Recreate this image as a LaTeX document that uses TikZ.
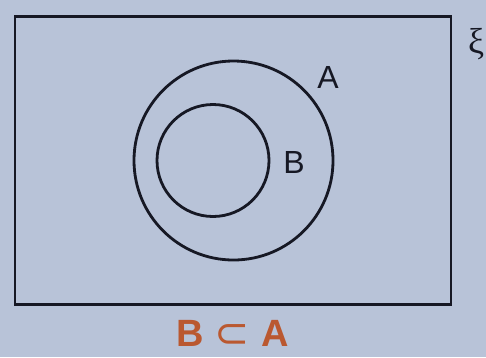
\documentclass[tikz,border=0pt]{standalone}
\usepackage{fontspec}
\setmainfont{Liberation Sans}
\newfontfamily\symfont{DejaVu Sans}
\newfontfamily\xifont{Liberation Serif}
\definecolor{bgc}{RGB}{184,195,216}
\definecolor{ink}{RGB}{22,24,36}
\definecolor{lab}{RGB}{186,88,48}
\begin{document}
\begin{tikzpicture}[x=1pt,y=-1pt,
  setline/.style={draw=ink,line width=2.8pt},
  setlabel/.style={text=ink,font=\fontsize{32}{32}\selectfont,inner sep=0pt},
  caption/.style={text=lab,font=\fontsize{38}{38}\selectfont\bfseries,inner sep=0pt}]
\clip (0,0) rectangle (486,357);
\fill[bgc] (0,0) rectangle (486,357);
\node[setline,rectangle,minimum width=436pt,minimum height=288pt,inner sep=0pt] (U) at (233,160.5) {};
\node[setline,circle,minimum size=199pt,inner sep=0pt] (A) at (233.5,160.5) {};
\node[setline,circle,minimum size=112pt,inner sep=0pt] (B) at (213,160.5) {};
\node[setlabel] (la) at (328,77) {A};
\node[setlabel] (lb) at (294,162) {B};
\node[text=ink,font=\xifont\fontsize{36}{36}\selectfont,inner sep=0pt,anchor=west] (xi) at (468,44) {ξ};
\node[caption] (c1) at (190,333) {B};
\node[caption,font=\symfont\fontsize{42}{42}\selectfont] (c2) at (232,336) {⊂};
\node[caption] (c3) at (275,333) {A};
\end{tikzpicture}
\end{document}
